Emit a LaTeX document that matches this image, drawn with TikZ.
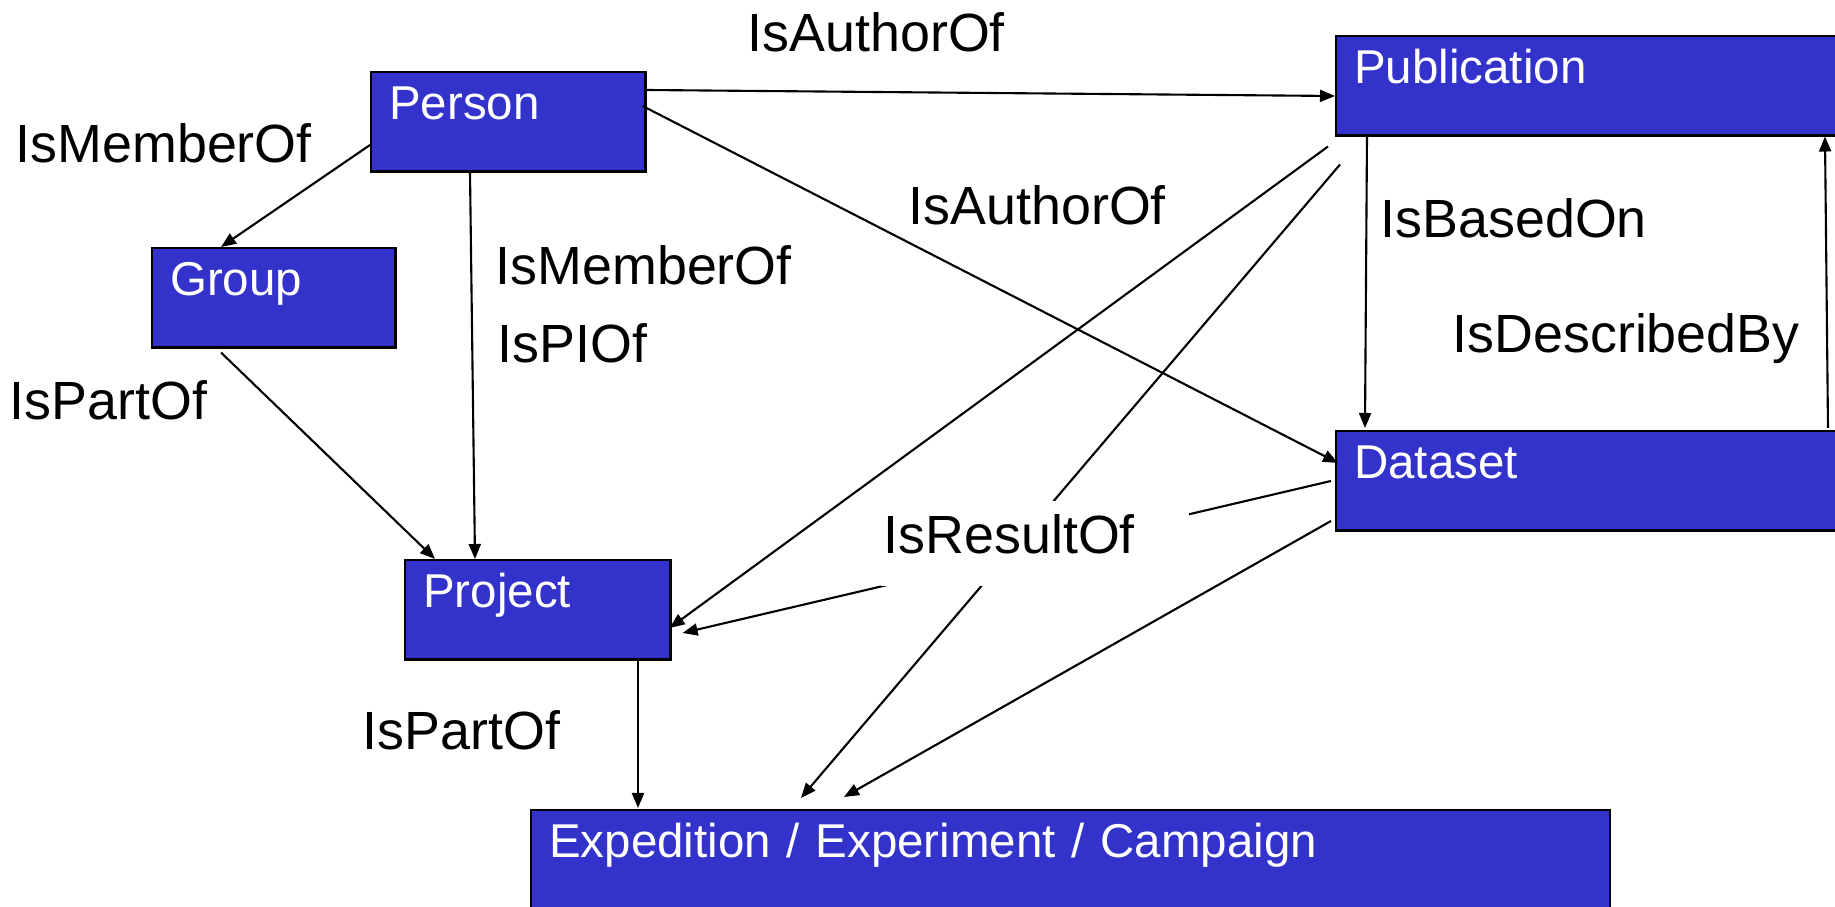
\documentclass[tikz,border=0pt]{standalone}
\usepackage{fontspec}
\setmainfont{Liberation Sans}
\usetikzlibrary{arrows.meta,calc}
\definecolor{EntBlue}{HTML}{3333CC}

\begin{document}
\begin{tikzpicture}[x=0.01cm,y=-0.01cm,
    ent/.style={draw=black,fill=EntBlue,text=white,line width=0.7pt,anchor=north west,
      inner xsep=0.18cm,inner ysep=0pt,text height=0.47cm,text depth=0.52cm,
      align=left,text width=#1,font=\fontsize{13.5}{16}\selectfont},
    rel/.style={anchor=base west,inner sep=0pt,font=\fontsize{15.3}{18}\selectfont},
    arr/.style={-{Triangle[length=0.15cm,width=0.12cm]},line width=0.6pt}]
  \useasboundingbox (0,0) rectangle (1835,907);
  \clip (0,0) rectangle (1835,907);

  % entities
  \node[ent=2.38cm] (person) at (370,71) {Person};
  \node[ent=2.07cm] (group) at (151,247) {Group};
  \node[ent=2.29cm] (proj) at (404,559) {Project};
  \node[ent=4.89cm] (pub) at (1335,35) {Publication};
  \node[ent=4.89cm] (data) at (1335,430) {Dataset};
  \node[ent=10.42cm] (exped) at (530,809) {Expedition / Experiment / Campaign};

  % relations
  \draw[arr] ($(person.north east)+(0,19)$) -- ($(pub.north west)+(0,61)$);
  \draw[arr] ($(person.north east)+(-4,35)$) -- ($(data.north west)+(3,33)$);
  \draw[arr] ($(person.north west)+(0,74)$) -- ($(group.north west)+(70,0)$);
  \draw[arr] ($(person.south west)+(100,0)$) -- ($(proj.north west)+(71,0)$);
  \draw[arr] ($(group.south west)+(70,4)$) -- ($(proj.north west)+(31,0)$);
  \draw[arr] ($(pub.south west)+(32,0)$) -- ($(data.north west)+(30,-2)$);
  \draw[arr] ($(data.north west)+(493,-2)$) -- ($(pub.south west)+(490,0)$);
  \draw[arr] ($(pub.south west)+(-7,10)$) -- ($(proj.north east)+(-2,69)$);
  \draw[arr] ($(pub.south west)+(5,28)$) -- ($(exped.north west)+(271,-11)$);
  \draw[arr] ($(data.north west)+(-4,51)$) -- ($(proj.north east)+(11,74)$);
  \draw[arr] ($(data.north west)+(-4,91)$) -- ($(exped.north west)+(314,-12)$);
  \draw[arr] ($(proj.south west)+(234,0)$) -- ($(exped.north west)+(108,-1)$);

  % labels
  \node[rel] (authTop) at (747,52) {IsAuthorOf};
  \node[rel] (memGroup) at (15,163) {IsMemberOf};
  \node[rel] (authData) at (908,225) {IsAuthorOf};
  \node[rel] (memProj) at (495,285) {IsMemberOf};
  \node[rel] (piProj) at (497,363) {IsPIOf};
  \node[rel] (partGroup) at (9,420) {IsPartOf};
  \node[rel] (basedOn) at (1380,238) {IsBasedOn};
  \node[rel] (descBy) at (1452,353) {IsDescribedBy};
  \node[rel] (partProj) at (362,750) {IsPartOf};
  % white box breaks the two lines running under it
  \node[rel,anchor=north west,fill=white,inner xsep=0.03cm,text height=0.53cm,
    text depth=0.32cm,text width=3.02cm,align=left] (result) at (880,500) {IsResultOf};
\end{tikzpicture}
\end{document}
